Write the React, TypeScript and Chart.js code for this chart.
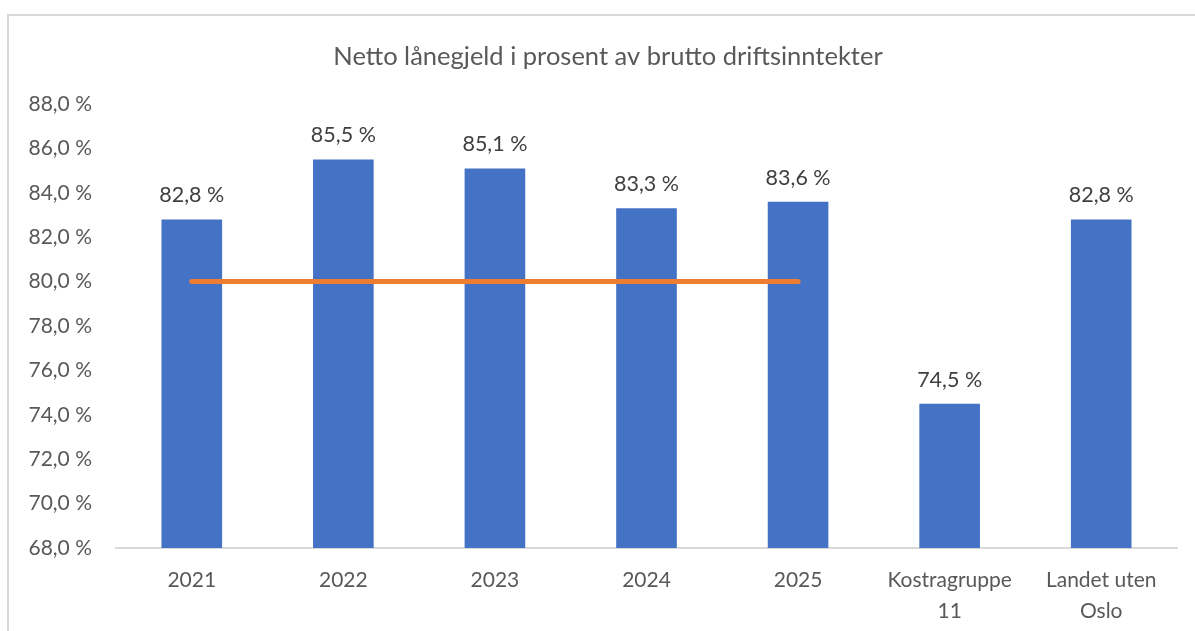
import React, { useEffect, useRef } from "react";
import { Chart, registerables } from "chart.js";

Chart.register(...registerables);

const TITLE = "Netto lånegjeld i prosent av brutto driftsinntekter";
const categories: (string | string[])[] = ["2021", "2022", "2023", "2024", "2025", ["Kostragruppe", "11"], ["Landet uten", "Oslo"]];
const barValues = [82.8, 85.5, 85.1, 83.3, 83.6, 74.5, 82.8];
const targetValues: (number | null)[] = [80, 80, 80, 80, 80, null, null];
const yMin = 68;
const yMax = 88;
const yStep = 2;

const FONT = "Lato, 'Open Sans', sans-serif";
const fmt = (v: number) => v.toFixed(1).replace(".", ",") + " %";

const overlay = {
  id: "overlay",
  afterDatasetsDraw(chart: any) {
    const ctx = chart.ctx;
    ctx.save();
    ctx.fillStyle = "#595959";
    ctx.font = `25.5px ${FONT}`;
    ctx.textAlign = "center";
    ctx.textBaseline = "middle";
    ctx.fillText(TITLE, 608, 57);
    const meta = chart.getDatasetMeta(0);
    ctx.fillStyle = "#404040";
    ctx.font = `21.5px ${FONT}`;
    meta.data.forEach((el: any, i: number) => {
      ctx.fillText(fmt(barValues[i]), el.x, el.y - 24);
    });
    ctx.restore();
  },
};

export default function App() {
  const ref = useRef<HTMLCanvasElement>(null);
  useEffect(() => {
    if (!ref.current) return;
    const chart = new Chart(ref.current, {
      type: "bar",
      data: {
        labels: categories,
        datasets: [
          {
            type: "bar",
            data: barValues,
            backgroundColor: "#4472C4",
            barPercentage: 0.4,
            categoryPercentage: 1,
            order: 2,
          },
          {
            type: "line",
            data: targetValues,
            borderColor: "#ED7D31",
            borderWidth: 5,
            borderCapStyle: "round",
            pointRadius: 0,
            spanGaps: false,
            order: 1,
          } as any,
        ],
      },
      options: {
        animation: false,
        responsive: false,
        layout: { padding: { left: 0, top: 104, right: 18, bottom: 0 } },
        plugins: { legend: { display: false }, tooltip: { enabled: false }, title: { display: false } },
        scales: {
          x: {
            grid: { display: false, drawTicks: false },
            border: { display: true, color: "#d9d9d9", width: 2 },
            ticks: { color: "#595959", font: { family: FONT, size: 21, lineHeight: 1.5 }, padding: 16, maxRotation: 0, autoSkip: false },
            afterFit: (s: any) => { s.height = 83; },
          },
          y: {
            min: yMin,
            max: yMax,
            grid: { display: false, drawTicks: false },
            border: { display: false },
            ticks: { stepSize: yStep, color: "#595959", font: { family: FONT, size: 21 }, padding: 24, callback: (v: any) => fmt(Number(v)) },
            afterFit: (s: any) => { s.width = 116; },
          },
        },
      },
      plugins: [overlay],
    });
    return () => chart.destroy();
  }, []);
  return (
    <div style={{ position: "absolute", left: 0, top: 0, width: 1195, height: 631, overflow: "hidden", background: "#fff" }}>
      <div style={{ position: "absolute", left: 7, top: 14, width: 1300, height: 800, border: "2px solid #d9d9d9" }} />
      <canvas ref={ref} width={1195} height={631} style={{ position: "absolute", left: 0, top: 0 }} />
    </div>
  );
}
